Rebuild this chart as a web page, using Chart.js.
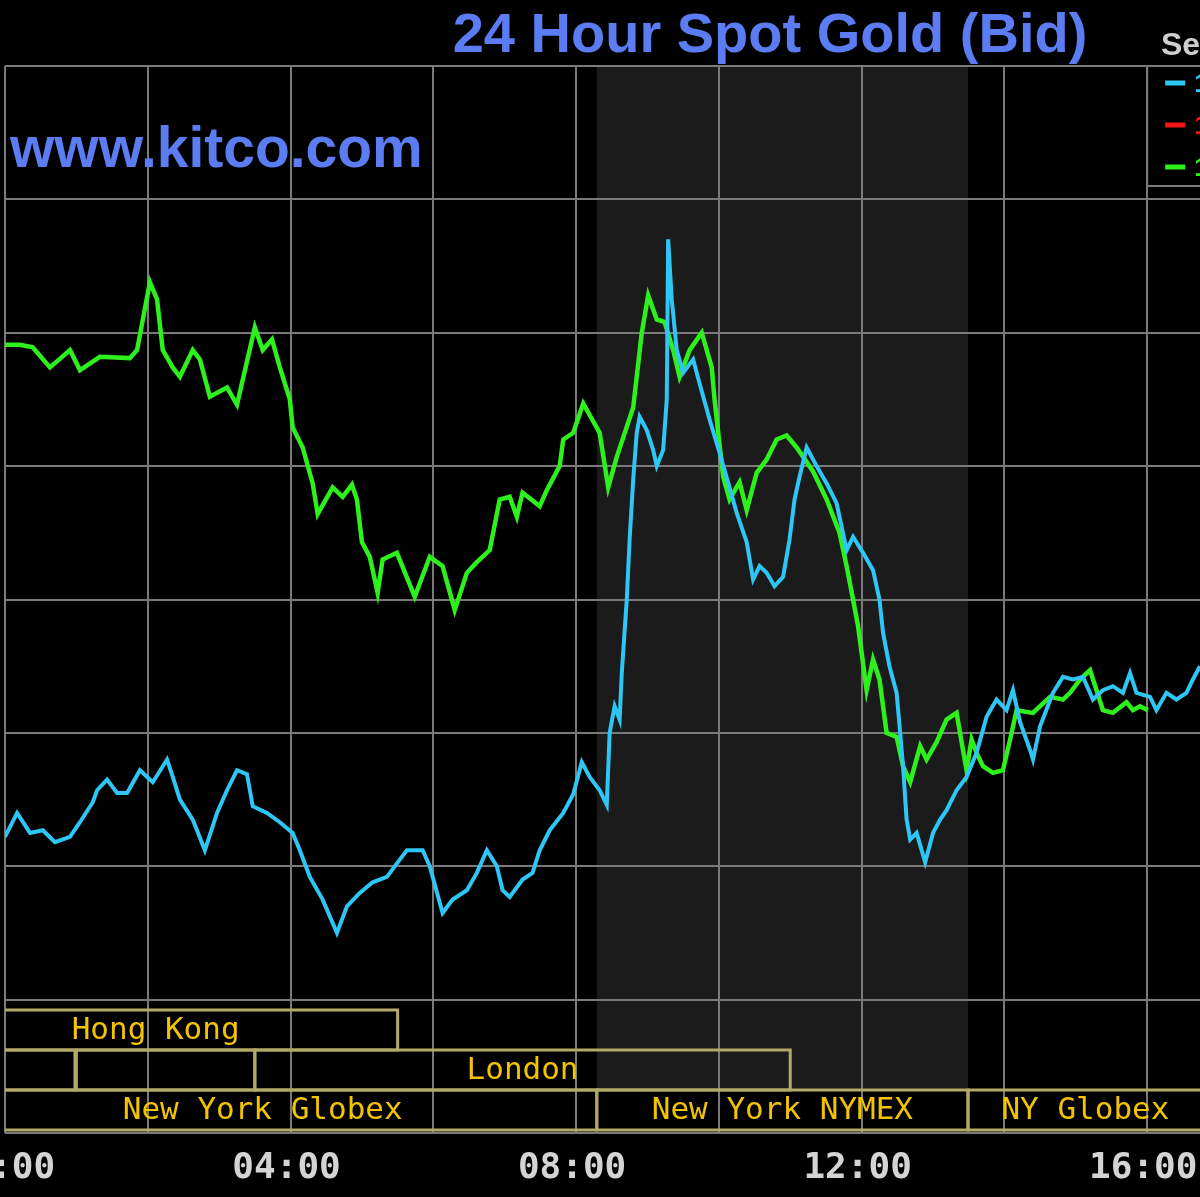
<!DOCTYPE html>
<html>
<head>
<meta charset="utf-8">
<script src="https://cdn.jsdelivr.net/npm/chart.js@4.4.1/dist/chart.umd.min.js"></script>
<style>
  html, body { margin: 0; padding: 0; background: #000; overflow: hidden; }
  #wrap { width: 1200px; height: 1197px; }
</style>
</head>
<body>
<div id="wrap"><canvas id="chart" width="1200" height="1197"></canvas></div>
<script>
// 24 hour spot gold (bid) — hours since midnight vs bid
const todayHours = [0.00, 0.17, 0.35, 0.53, 0.70, 0.91, 1.05, 1.23, 1.29, 1.43, 1.57, 1.71, 1.89, 2.07, 2.27, 2.35,
  2.45, 2.63, 2.80, 2.97, 3.11, 3.25, 3.39, 3.47, 3.67, 3.85, 4.03, 4.13, 4.27, 4.45, 4.65, 4.79, 4.97, 5.15, 5.35,
  5.53, 5.63, 5.85, 5.95, 6.13, 6.27, 6.47, 6.61, 6.75, 6.89, 6.97, 7.07, 7.25, 7.39, 7.49, 7.63, 7.82, 7.96, 8.08,
  8.19, 8.33, 8.43, 8.47, 8.54, 8.61, 8.64, 8.71, 8.75, 8.80, 8.85, 8.89, 8.99, 9.08, 9.13, 9.22, 9.27, 9.29, 9.34,
  9.41, 9.50, 9.64, 9.73, 9.87, 10.01, 10.15, 10.25, 10.39, 10.48, 10.57, 10.67, 10.78, 10.90, 10.99, 11.06, 11.13,
  11.23, 11.37, 11.51, 11.65, 11.79, 11.88, 12.02, 12.16, 12.25, 12.30, 12.39, 12.49, 12.54, 12.58, 12.63, 12.68,
  12.77, 12.89, 13.00, 13.10, 13.19, 13.33, 13.47, 13.61, 13.75, 13.89, 14.03, 14.12, 14.22, 14.36, 14.40, 14.50,
  14.68, 14.82, 14.96, 15.10, 15.24, 15.38, 15.52, 15.66, 15.76, 15.85, 16.04, 16.13, 16.27, 16.41, 16.55, 16.64, 16.74];
const todayBid = [822.2, 824.0, 822.5, 822.7, 821.8, 822.2, 823.3, 824.8, 825.7, 826.5, 825.5, 825.5, 827.2, 826.3, 828.0, 826.7,
  825.0, 823.5, 821.2, 824.0, 825.7, 827.2, 826.9, 824.5, 824.0, 823.3, 822.5, 821.2, 819.2, 817.5, 815.0, 817.0, 818.0, 818.8, 819.2,
  820.5, 821.2, 821.2, 820.0, 816.5, 817.5, 818.2, 819.5, 821.2, 820.0, 818.2, 817.7, 819.0, 819.5, 821.2, 822.7, 824.0, 825.4, 827.8,
  826.7, 825.7, 824.6, 830.0, 832.0, 831.0, 834.5, 840.0, 844.5, 849.0, 852.5, 853.7, 852.7, 851.2, 850.0, 851.2, 855.0, 867.0, 862.5,
  858.7, 857.0, 858.0, 856.2, 853.5, 851.0, 848.4, 846.5, 844.3, 841.5, 842.5, 842.0, 841.0, 841.7, 844.5, 847.5, 849.2,
  851.4, 850.0, 848.7, 847.2, 843.7, 844.7, 843.5, 842.2, 840.0, 837.5, 835.0, 833.0, 830.0, 827.5, 823.5, 822.0,
  822.5, 820.3, 822.5, 823.5, 824.2, 825.7, 826.7, 828.5, 831.2, 832.5, 831.7, 833.2, 830.8, 828.7, 828.0, 830.5,
  833.0, 834.2, 834.0, 834.2, 832.5, 833.2, 833.5, 833.0, 834.5, 833.0, 832.7, 831.7, 833.0, 832.5, 833.0, 834.0, 835.0];

const prevHours = [0.00, 0.21, 0.39, 0.63, 0.91, 1.05, 1.33, 1.75, 1.85, 2.03, 2.13, 2.21, 2.35, 2.45, 2.63, 2.73, 2.87,
  3.11, 3.25, 3.50, 3.61, 3.74, 3.85, 3.99, 4.03, 4.17, 4.31, 4.38, 4.59, 4.73, 4.86, 4.93, 5.00, 5.11, 5.22, 5.29, 5.49,
  5.74, 5.95, 6.13, 6.30, 6.47, 6.61, 6.79, 6.93, 7.07, 7.17, 7.25, 7.49, 7.59, 7.77, 7.82, 7.96, 8.10, 8.33, 8.45, 8.57,
  8.80, 8.92, 9.01, 9.13, 9.24, 9.36, 9.45, 9.59, 9.76, 9.90, 9.94, 10.06, 10.15, 10.29, 10.39, 10.53, 10.67, 10.81,
  10.95, 11.09, 11.32, 11.51, 11.69, 11.79, 11.88, 11.95, 12.00, 12.07, 12.16, 12.25, 12.35, 12.49, 12.58, 12.68, 12.82,
  12.91, 13.05, 13.19, 13.33, 13.42, 13.47, 13.54, 13.61, 13.70, 13.84, 13.98, 14.08, 14.17, 14.40, 14.50, 14.64, 14.82,
  14.92, 15.06, 15.20, 15.29, 15.38, 15.52, 15.71, 15.80, 15.90, 16.01];
const prevBid = [859.1, 859.1, 858.9, 857.4, 858.7, 857.2, 858.2, 858.1, 858.7, 863.8, 862.5, 858.7, 857.4, 856.7, 858.7, 858.0, 855.2,
  855.9, 854.6, 860.4, 858.7, 859.5, 857.4, 855.0, 852.9, 851.4, 848.7, 846.4, 848.4, 847.7, 848.6, 847.5, 844.3, 843.2, 840.5, 843.0, 843.5,
  840.2, 843.2, 842.5, 839.2, 842.0, 842.8, 843.7, 847.5, 847.7, 846.2, 848.0, 847.0, 848.2, 850.0, 852.0, 852.5, 854.7, 852.5, 848.4, 850.7,
  854.4, 860.0, 862.8, 861.0, 860.8, 858.7, 856.7, 858.7, 860.0, 857.4, 855.0, 849.2, 847.5, 848.8, 846.7, 849.5, 850.5, 852.0,
  852.3, 851.4, 849.6, 847.5, 845.0, 842.5, 840.0, 838.0, 836.0, 833.2, 835.5, 834.0, 830.0, 829.7, 827.5, 826.3, 829.0,
  828.0, 829.3, 831.0, 831.5, 828.7, 827.2, 829.5, 828.5, 827.5, 827.0, 827.2, 829.5, 831.7, 831.5, 832.0, 832.7, 832.5,
  833.0, 834.0, 834.7, 833.2, 831.7, 831.5, 832.3, 831.7, 832.0, 831.7];

// trading sessions (hours, row 0 = top)
const sessionNames = ['Hong Kong', '', '', 'London', 'New York Globex', 'New York NYMEX', 'NY Globex'];
const sessionRow = [0, 1, 1, 1, 2, 2, 2];
const sessionStart = [-1.28, -1.0, 1.0, 3.5, -1.07, 8.29, 13.49];
const sessionEnd = [5.5, 0.98, 3.5, 11.0, 8.29, 13.49, 16.78];

const legendLabels = ['18 Sep', '17 Sep', '16 Sep'];
const legendColors = ['#2ec6f4', '#f01414', '#2ef01c'];

const CYAN = '#2ec6f4';
const GREEN = '#2ef01c';
const GRID = '#7a7a7a';
const BLUE = '#5b7cf2';

const kitcoDecor = {
  id: 'kitcoDecor',
  beforeDraw(chart) {
    const { ctx, chartArea: a, scales: { x } } = chart;
    ctx.save();
    ctx.fillStyle = '#000';
    ctx.fillRect(0, 0, chart.width, chart.height);
    // NYMEX hours shading
    const i = sessionNames.indexOf('New York NYMEX');
    ctx.fillStyle = '#1b1b1b';
    const x0 = x.getPixelForValue(sessionStart[i]), x1 = x.getPixelForValue(sessionEnd[i]);
    ctx.fillRect(x0, a.top, x1 - x0, a.bottom - 42 - a.top);
    ctx.restore();
  },
  afterDatasetsDraw(chart) {
    const { ctx, chartArea: a, scales: { x } } = chart;
    ctx.save();
    ctx.beginPath();
    ctx.rect(a.left, a.top, a.right - a.left, a.bottom - a.top);
    ctx.clip();
    ctx.strokeStyle = '#b2aa66';
    ctx.lineWidth = 3;
    ctx.fillStyle = '#f2c400';
    ctx.font = '31px "DejaVu Sans Mono"';
    ctx.textAlign = 'center';
    ctx.textBaseline = 'middle';
    sessionNames.forEach((name, k) => {
      const bottom = a.bottom - 3 - (2 - sessionRow[k]) * 40;
      const top = bottom - 40;
      const l = x.getPixelForValue(sessionStart[k]);
      const r = x.getPixelForValue(sessionEnd[k]);
      ctx.strokeRect(l, top, r - l, bottom - top);
      if (name) ctx.fillText(name, (l + r) / 2, (top + bottom) / 2 + 1);
    });
    ctx.restore();
  },
  afterDraw(chart) {
    const { ctx, chartArea: a, scales: { x } } = chart;
    ctx.save();
    ctx.fillStyle = BLUE;
    ctx.textBaseline = 'alphabetic';
    ctx.font = 'bold 56px "Liberation Sans"';
    ctx.textAlign = 'center';
    ctx.fillText('24 Hour Spot Gold (Bid)', 770, 52);
    ctx.textAlign = 'left';
    ctx.font = 'bold 57px "Liberation Sans"';
    ctx.fillText('www.kitco.com', 10, 167);

    ctx.fillStyle = '#cfcfcf';
    ctx.font = 'bold 32px "Liberation Sans"';
    ctx.fillText('Sep 18, 2008', 1161, 55);

    // legend box in the top right corner
    const lx = x.getPixelForValue(16);
    ctx.fillStyle = '#000';
    ctx.fillRect(lx, a.top + 1, chart.width - lx, 120);
    ctx.strokeStyle = GRID;
    ctx.lineWidth = 2;
    ctx.beginPath();
    ctx.moveTo(lx, a.top);
    ctx.lineTo(lx, a.top + 120);
    ctx.lineTo(chart.width, a.top + 120);
    ctx.stroke();
    ctx.font = 'bold 26px "Liberation Sans"';
    ctx.textBaseline = 'middle';
    legendLabels.forEach((lab, k) => {
      const y = a.top + 17 + k * 42;
      ctx.fillStyle = legendColors[k];
      ctx.fillRect(lx + 18, y - 2.5, 20, 5);
      ctx.fillText(lab, lx + 47, y + 2);
    });
    ctx.restore();
  }
};

const pad = v => String(v).padStart(2, '0') + ':00';

new Chart(document.getElementById('chart'), {
  type: 'line',
  data: {
    datasets: [
      {
        label: legendLabels[0],
        data: todayHours.map((h, i) => ({ x: h, y: todayBid[i] })),
        borderColor: CYAN, borderWidth: 4, pointRadius: 0, tension: 0, order: 0
      },
      {
        label: legendLabels[2],
        data: prevHours.map((h, i) => ({ x: h, y: prevBid[i] })),
        borderColor: GREEN, borderWidth: 4.5, pointRadius: 0, tension: 0, order: 1
      }
    ]
  },
  options: {
    responsive: false,
    animation: false,
    layout: { padding: { top: 66, left: 5, right: 0, bottom: 0 } },
    plugins: { legend: { display: false }, title: { display: false }, tooltip: { enabled: false } },
    scales: {
      x: {
        type: 'linear', min: 0, max: 16.74,
        afterFit: s => { s.paddingLeft = 0; s.paddingRight = 0; s.height = 64; },
        grid: { color: GRID, lineWidth: 2, drawTicks: false },
        border: { display: false },
        ticks: {
          stepSize: 2, includeBounds: false, autoSkip: false, maxRotation: 0, minRotation: 0,
          padding: 14, labelOffset: -4, color: '#d4d4d4',
          font: { family: 'DejaVu Sans Mono', size: 36, weight: 'bold' },
          callback: v => (v % 4 === 0 ? pad(v) : '')
        }
      },
      y: {
        min: 800, max: 880,
        grid: { color: GRID, lineWidth: 2, drawTicks: false },
        border: { display: false },
        ticks: { display: false, stepSize: 10 }
      }
    }
  },
  plugins: [kitcoDecor]
});
</script>
</body>
</html>
